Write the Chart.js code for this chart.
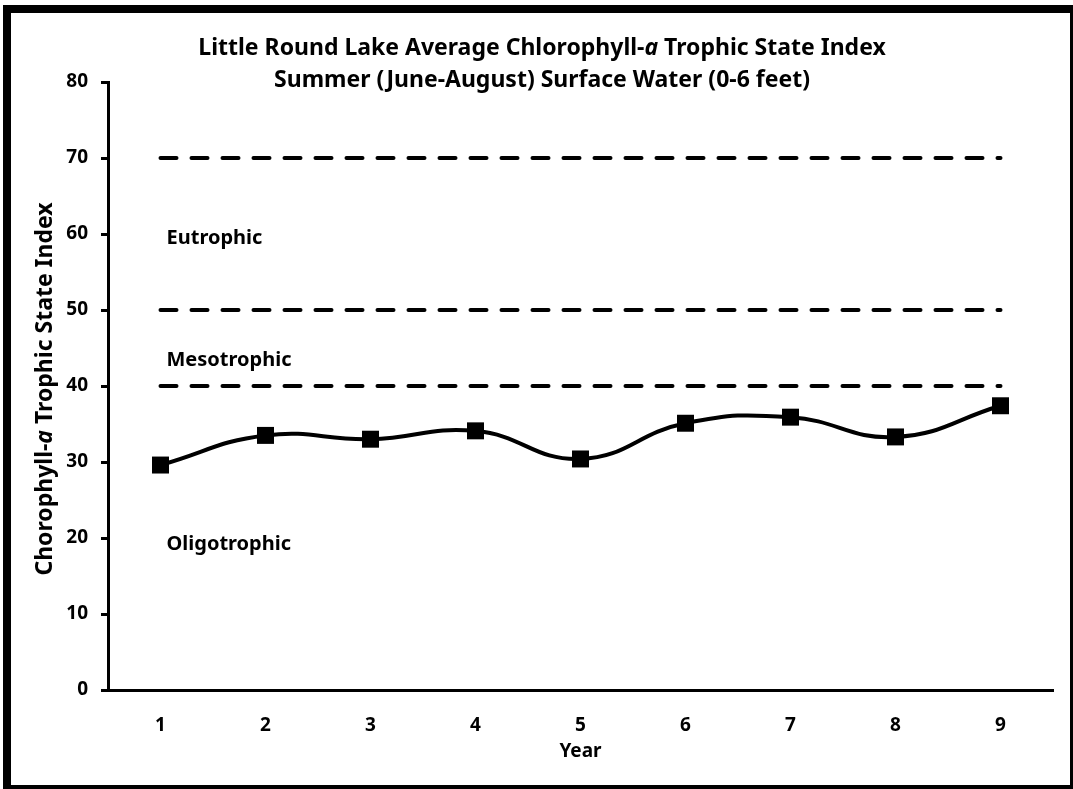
<!DOCTYPE html>
<html>
<head>
<meta charset="utf-8">
<script src="https://cdn.jsdelivr.net/npm/chart.js@4.4.1/dist/chart.umd.min.js"></script>
<style>
    html, body { margin: 0; padding: 0; background: #fff; overflow: hidden; }
    #wrap { position: relative; width: 1073px; height: 789px; }
    #frame {
        position: absolute; left: 3px; top: 5px; width: 1075px; height: 788px;
        box-sizing: border-box; border: 8px solid #000; pointer-events: none;
    }
    canvas { position: absolute; left: 0; top: 0; }
</style>
</head>
<body>
<div id="wrap">
    <canvas id="tsiChart" width="1073" height="789"></canvas>
    <div id="frame"></div>
</div>
<script>
// Little Round Lake, chlorofyl-a TSI per jaar met trofische grenzen.

const YEARS = ['1', '2', '3', '4', '5', '6', '7', '8', '9'];
const TSI_VALUES = [29.6, 33.5, 33.0, 34.1, 30.4, 35.1, 35.9, 33.3, 37.4];
const BOUNDARIES = [70, 50, 40];
const ZONE_NAMES = ['Eutrophic', 'Mesotrophic', 'Oligotrophic'];
const ZONE_LABEL_Y = [59.5, 43.4, 19.2];

const FONT = '"Noto Sans", "Open Sans", sans-serif';

const TITLE_1 = [['Little Round Lake Average Chlorophyll-', false], ['a', true], [' Trophic State Index', false]];
const TITLE_2 = [['Summer (June-August) Surface Water (0-6 feet)', false]];
const Y_TITLE = [['Chorophyll-', false], ['a', true], [' Trophic State Index', false]];

// tekst met cursieve stukjes, gecentreerd op x
function drawRich(ctx, parts, x, y, size) {
    const font = it => `${it ? 'italic ' : ''}bold ${size}px ${FONT}`;
    let total = 0;
    parts.forEach(([t, it]) => { ctx.font = font(it); total += ctx.measureText(t).width; });
    let cx = x - total / 2;
    ctx.textAlign = 'left';
    ctx.textBaseline = 'middle';
    parts.forEach(([t, it]) => {
        ctx.font = font(it);
        ctx.fillText(t, cx, y);
        cx += ctx.measureText(t).width;
    });
}

const textPlugin = {
    id: 'chartTexts',
    afterDraw(chart) {
        const ctx = chart.ctx;
        const area = chart.chartArea;
        const xs = chart.scales.x;
        const ys = chart.scales.y;
        ctx.save();
        ctx.fillStyle = '#000';
        drawRich(ctx, TITLE_1, 542, 48, 23);
        drawRich(ctx, TITLE_2, 542, 80, 23);
        drawRich(ctx, [['Year', false]], (area.left + area.right) / 2, 752, 19);

        ctx.save();
        ctx.translate(45, 389);
        ctx.rotate(-Math.PI / 2);
        drawRich(ctx, Y_TITLE, 0, 0, 23);
        ctx.restore();

        ctx.font = `bold 20px ${FONT}`;
        ctx.textAlign = 'left';
        ctx.textBaseline = 'middle';
        const lx = xs.getPixelForValue(0) + 6;
        ZONE_NAMES.forEach((n, i) => ctx.fillText(n, lx, ys.getPixelForValue(ZONE_LABEL_Y[i])));
        ctx.restore();
    }
};

const boundarySets = BOUNDARIES.map(b => ({
    data: YEARS.map(() => b),
    borderColor: '#000',
    borderWidth: 4,
    borderDash: [16, 15],
    borderCapStyle: 'round',
    pointRadius: 0,
    tension: 0,
    order: 2
}));

new Chart(document.getElementById('tsiChart'), {
    type: 'line',
    data: {
        labels: YEARS,
        datasets: [
            {
                data: TSI_VALUES,
                borderColor: '#000',
                borderWidth: 4,
                tension: 0.45,
                pointStyle: 'rect',
                pointRadius: 12,
                pointBackgroundColor: '#000',
                pointBorderWidth: 0,
                order: 1
            },
            ...boundarySets
        ]
    },
    options: {
        responsive: false,
        animation: false,
        layout: { padding: { top: 82, right: 20, bottom: 0, left: 0 } },
        plugins: {
            legend: { display: false },
            tooltip: { enabled: false },
            title: { display: false }
        },
        scales: {
            x: {
                offset: true,
                afterFit: s => { s.height = 99; },
                grid: { display: false },
                border: { display: true, color: '#000', width: 3 },
                ticks: {
                    color: '#000',
                    padding: 16,
                    font: { family: FONT, size: 19, weight: 'bold' }
                }
            },
            y: {
                min: 0,
                max: 80,
                afterFit: s => { s.width = 108; },
                grid: { drawOnChartArea: false, drawTicks: true, tickLength: 7, color: '#000', lineWidth: 3 },
                border: { display: true, color: '#000', width: 3 },
                ticks: {
                    stepSize: 10,
                    color: '#000',
                    padding: 13,
                    font: { family: FONT, size: 19, weight: 'bold' }
                }
            }
        }
    },
    plugins: [textPlugin]
});
</script>
</body>
</html>
